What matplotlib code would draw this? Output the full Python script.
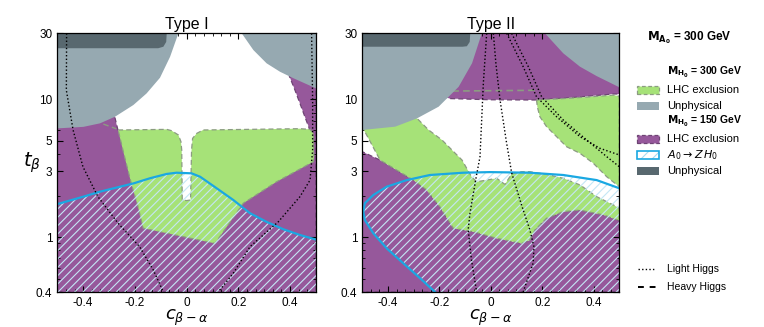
import matplotlib
matplotlib.use('Agg')
import matplotlib.pyplot as plt
from matplotlib.patches import Polygon, Rectangle
from matplotlib.lines import Line2D
from matplotlib.ticker import FixedLocator, NullFormatter, LogLocator, MultipleLocator

plt.rcParams['font.family'] = ['Liberation Sans', 'DejaVu Sans']
plt.rcParams['hatch.linewidth'] = 0.8

# ---- data: (c_{beta-alpha}, t_beta) outlines ----
# Type I
dark_I = [(-0.5, 30), (-0.077, 30), (-0.079, 26), (-0.09, 24), (-0.11, 23.4), (-0.5, 23.4)]
grey_I_left = [(-0.5, 30), (-0.032, 30), (-0.064, 20.3), (-0.103, 14.3), (-0.155, 11.0), (-0.206, 9.07),
               (-0.277, 7.46), (-0.335, 6.68), (-0.399, 6.3), (-0.5, 6.14)]
grey_I_right = [(0.213, 30), (0.5, 30), (0.5, 11.98), (0.412, 14.2), (0.361, 15.8), (0.309, 18.2), (0.258, 22.7)]
purple_I = [(-0.5, 0.4), (0.5, 0.4), (0.5, 23), (0.397, 14.7), (0.419, 11.6), (0.438, 9.32), (0.457, 7.46),
            (0.474, 6.14), (0.464, 5.06), (0.18, 4.79), (0.039, 1.76), (-0.026, 1.76), (-0.142, 4.79),
            (-0.265, 5.91), (-0.278, 7.46), (-0.296, 8.34), (-0.5, 9.86)]
green_I = [(-0.265, 5.98), (-0.077, 6.04), (-0.058, 5.91), (-0.032, 5.50), (-0.022, 4.92), (-0.019, 4.28),
           (-0.017, 1.86), (0.0, 1.84), (0.015, 1.86), (0.019, 4.28), (0.023, 5.20), (0.039, 5.65),
           (0.064, 5.98), (0.438, 6.11), (0.477, 6.04), (0.490, 5.65), (0.492, 3.83), (0.490, 3.52),
           (0.348, 2.52), (0.219, 1.76), (0.110, 0.90), (-0.168, 1.16), (-0.188, 1.66), (-0.214, 2.45),
           (-0.240, 3.83)]
green_edge_I = [(-0.322, 6.6), (-0.272, 6.1)]
azh_I = [(-0.5, 1.735), (-0.399, 1.965), (-0.335, 2.135), (-0.206, 2.45), (-0.142, 2.67), (-0.077, 2.87),
         (-0.039, 2.93), (0.019, 2.90), (0.052, 2.74), (0.116, 2.26), (0.180, 1.86), (0.245, 1.49),
         (0.309, 1.29), (0.374, 1.14), (0.438, 1.036), (0.5, 0.96)]
light_I = [
    [(-0.464, 30), (-0.465, 11.6), (-0.439, 5.98), (-0.401, 3.24), (-0.343, 1.965), (-0.265, 1.26),
     (-0.182, 0.853), (-0.129, 0.578), (-0.090, 0.4)],
    [(0.483, 30), (0.487, 9.86), (0.487, 4.28), (0.477, 2.59), (0.438, 1.965), (0.354, 1.29),
     (0.245, 0.853), (0.180, 0.546), (0.122, 0.4)],
]

# Type II
dark_II = [(-0.5, 30), (-0.080, 30), (-0.082, 26), (-0.093, 24.2), (-0.11, 24), (-0.5, 24)]
grey_II_left = [(-0.5, 30), (-0.035, 30), (-0.073, 18.2), (-0.125, 12.3), (-0.203, 8.82), (-0.287, 7.26),
                (-0.372, 6.32), (-0.5, 5.98)]
grey_II_right = [(0.211, 30), (0.5, 30), (0.5, 12.2), (0.412, 14.7), (0.347, 17.2), (0.282, 21.5)]
purple_II_top = [(-0.3, 30), (0.5, 30), (0.5, 10.9), (0.477, 10.9), (0.3, 10.2), (0.17, 9.86), (0.0, 9.9),
                 (-0.16, 10.1), (-0.22, 11), (-0.3, 14)]
purple_II_low = [(-0.5, 0.4), (-0.5, 4.16), (-0.431, 3.62), (-0.366, 3.06), (-0.301, 2.59), (-0.250, 2.20),
                 (-0.198, 1.66), (-0.146, 1.16), (-0.068, 1.095), (0.023, 0.98), (0.120, 0.90),
                 (0.152, 0.953), (0.172, 1.13), (0.217, 1.37), (0.282, 1.53), (0.347, 1.57),
                 (0.438, 1.45), (0.5, 1.32), (0.5, 0.4)]
green_II_main = [(-0.5, 6.3), (-0.40, 6.5), (-0.30, 7.3), (-0.287, 7.26), (-0.242, 5.98), (-0.190, 5.06),
                 (-0.151, 4.28), (-0.112, 3.62), (-0.075, 2.74), (-0.055, 2.52), (-0.016, 2.59),
                 (0.023, 2.67), (0.055, 2.41), (0.081, 2.87), (0.120, 2.98), (0.152, 2.98), (0.217, 2.85),
                 (0.282, 2.67), (0.347, 2.39), (0.412, 1.965), (0.477, 1.71), (0.5, 1.62)] \
    + purple_II_low[-2:1:-1]
green_II_right = [(0.178, 9.86), (0.282, 10.1), (0.386, 10.4), (0.477, 10.7), (0.5, 10.5), (0.5, 2.32),
                  (0.451, 2.74), (0.399, 3.43), (0.347, 4.05), (0.295, 4.52), (0.256, 5.35),
                  (0.217, 6.32), (0.191, 7.46), (0.181, 8.82)]
green_edge_II = [(-0.15, 11.45), (0.175, 11.6)]
azh_II = [(-0.217, 0.4), (-0.275, 0.503), (-0.340, 0.645), (-0.405, 0.829), (-0.457, 1.065), (-0.490, 1.33),
          (-0.496, 1.53), (-0.490, 1.76), (-0.457, 2.02), (-0.405, 2.32), (-0.327, 2.59), (-0.237, 2.82),
          (-0.107, 2.93), (-0.003, 2.96), (0.152, 2.93), (0.282, 2.82), (0.412, 2.59), (0.5, 2.26)]
light_II = [
    [(-0.016, 30), (-0.029, 13.0), (-0.042, 3.83), (-0.059, 2.59), (-0.081, 1.49), (-0.088, 1.13),
     (-0.075, 0.68), (-0.055, 0.4)],
    [(0.010, 30), (0.02, 18), (0.036, 9.86), (0.06, 5), (0.081, 2.93), (0.12, 1.7), (0.152, 1.13),
     (0.168, 0.85), (0.165, 0.65), (0.126, 0.4)],
    [(0.062, 30), (0.126, 17.2), (0.178, 10.4), (0.256, 7.46), (0.347, 5.35), (0.425, 4.40), (0.5, 3.94)],
    [(0.081, 30), (0.146, 17.2), (0.198, 10.4), (0.282, 7.06), (0.373, 5.06), (0.451, 3.83), (0.5, 3.24)],
]

yticks = [0.4, 1, 3, 5, 10, 30]
ytick_labels = ['0.4', '1', '3', '5', '10', '30']
xticks = [-0.4, -0.2, 0, 0.2, 0.4]
xtick_labels = ['-0.4', '-0.2', '0', '0.2', '0.4']

purple = '#96589b'
purple_edge = '#6e4474'
green = '#a6e278'
green_edge = '#8c9c82'
grey = '#96a9b1'
dark = '#58686f'
blue = '#1aa8e2'
hatch_col = '#c4e6f5'


def region(ax, pts, fc, ec=None, z=1):
    if ec is None:
        ax.add_patch(Polygon(pts, closed=True, fc=fc, ec='none', zorder=z))
    else:
        ax.add_patch(Polygon(pts, closed=True, fc=fc, ec=ec, lw=0.9, ls=(0, (4, 2.5)), zorder=z))


def curve(ax, pts, **kw):
    ax.plot([p[0] for p in pts], [p[1] for p in pts], **kw)


def hatched(ax, pts, z=5):
    ax.add_patch(Polygon(pts, closed=True, fc='none', ec=hatch_col, lw=0, hatch='////', zorder=z))


def setup(ax, title):
    ax.set_yscale('log')
    ax.set_xlim(-0.5, 0.5)
    ax.set_ylim(0.4, 30)
    ax.yaxis.set_major_locator(FixedLocator(yticks))
    ax.set_yticklabels(ytick_labels)
    ax.yaxis.set_minor_locator(LogLocator(subs=range(2, 10)))
    ax.yaxis.set_minor_formatter(NullFormatter())
    ax.set_xticks(xticks)
    ax.set_xticklabels(xtick_labels)
    ax.xaxis.set_minor_locator(MultipleLocator(0.2 / 6))
    ax.tick_params(which='both', direction='in', top=True, right=True, labelsize=8.5)
    ax.tick_params(which='major', length=4, width=0.8)
    ax.tick_params(which='minor', length=2, width=0.6)
    ax.set_title(title, fontsize=11.5, pad=3)
    ax.set_xlabel(r'$c_{\beta-\alpha}$', fontsize=13, labelpad=-1)
    for s in ax.spines.values():
        s.set_linewidth(0.9)
        s.set_zorder(10)


fig = plt.figure(figsize=(7.64, 3.27), dpi=100)
ax1 = fig.add_axes([0.075, 0.107, 0.3386, 0.791])
ax2 = fig.add_axes([0.4742, 0.107, 0.3364, 0.791])

# Type I
region(ax1, purple_I, purple, purple_edge, 1)
region(ax1, green_I, green, green_edge, 2)
curve(ax1, green_edge_I, color=green_edge, lw=1.0, ls=(0, (4, 2.5)), zorder=2)
region(ax1, grey_I_left, grey, None, 3)
region(ax1, grey_I_right, grey, None, 3)
region(ax1, dark_I, dark, None, 4)
hatched(ax1, azh_I + [(0.5, 0.4), (-0.5, 0.4)])
curve(ax1, azh_I, color=blue, lw=1.6, zorder=6)
for ln in light_I:
    curve(ax1, ln, color='black', lw=1.0, ls=(0, (1, 1.6)), zorder=7)
setup(ax1, 'Type I')
ax1.set_ylabel(r'$t_\beta$', fontsize=14, rotation=0, labelpad=3, va='center')

# Type II
region(ax2, purple_II_top, purple, purple_edge, 1)
region(ax2, purple_II_low, purple, purple_edge, 1)
region(ax2, green_II_main, green, green_edge, 2)
region(ax2, green_II_right, green, green_edge, 2)
curve(ax2, green_edge_II, color=green_edge, lw=1.2, ls=(0, (4, 2.5)), zorder=2)
region(ax2, grey_II_left, grey, None, 3)
region(ax2, grey_II_right, grey, None, 3)
region(ax2, dark_II, dark, None, 4)
hatched(ax2, azh_II + [(0.5, 0.4)])
curve(ax2, azh_II, color=blue, lw=1.6, zorder=6)
for ln in light_II:
    curve(ax2, ln, color='black', lw=1.0, ls=(0, (1, 1.6)), zorder=7)
setup(ax2, 'Type II')

# ---- legend drawn in figure coordinates ----
px = lambda x: x / 764
py = lambda y: 1 - y / 327
fig.text(px(647), py(38), r'$\mathbf{M_{A_0}}$ = 300 GeV', fontsize=8.5, fontweight='bold', va='center')
fig.text(px(667), py(72), r'$\mathbf{M_{H_0}}$ = 300 GeV', fontsize=7.5, fontweight='bold', va='center')
fig.text(px(667), py(121), r'$\mathbf{M_{H_0}}$ = 150 GeV', fontsize=7.5, fontweight='bold', va='center')

rows = [(90, green, green_edge, 'LHC exclusion'),
        (106, grey, None, 'Unphysical'),
        (139, purple, purple_edge, 'LHC exclusion'),
        (155, None, None, r'$A_0 \rightarrow Z\,H_0$'),
        (171, dark, None, 'Unphysical')]
for y, fc, ec, lab in rows:
    x0, w, h = px(637), 22 / 764, 8 / 327
    if fc is None:
        fig.add_artist(Rectangle((x0, py(y) - h / 2), w, h, transform=fig.transFigure,
                                 fc='white', ec='#a6dcf2', lw=0, hatch='///'))
        fig.add_artist(Rectangle((x0, py(y) - h / 2), w, h, transform=fig.transFigure,
                                 fc='none', ec=blue, lw=1.2))
    elif ec is None:
        fig.add_artist(Rectangle((x0, py(y) - h / 2), w, h, transform=fig.transFigure, fc=fc, ec='none'))
    else:
        fig.add_artist(Rectangle((x0, py(y) - h / 2), w, h, transform=fig.transFigure, fc=fc, ec=ec,
                                 lw=0.9, ls=(0, (3, 2))))
    fig.text(px(667), py(y), lab, fontsize=8, va='center')

fig.add_artist(Line2D([px(638), px(656)], [py(269), py(269)], color='black', lw=1.0,
                      ls=(0, (1, 1.6)), transform=fig.transFigure))
fig.text(px(667), py(269), 'Light Higgs', fontsize=7.5, va='center')
fig.add_artist(Line2D([px(638), px(656)], [py(287), py(287)], color='black', lw=1.4,
                      ls=(0, (3, 3)), transform=fig.transFigure))
fig.text(px(667), py(287), 'Heavy Higgs', fontsize=7.5, va='center')

fig.savefig('out.png', dpi=100)
